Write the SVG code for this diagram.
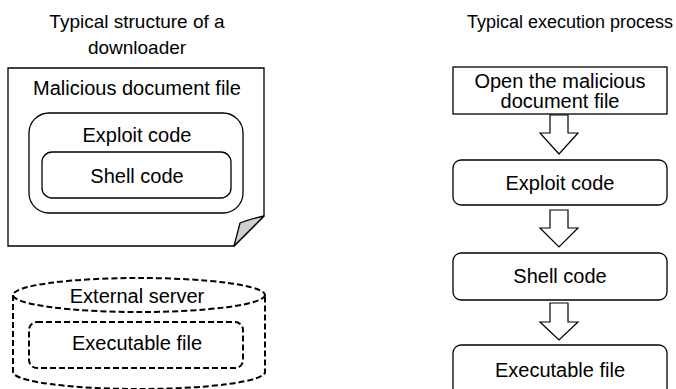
<svg xmlns="http://www.w3.org/2000/svg" width="676" height="389" viewBox="0 0 676 389">
<style>
text{font-family:"Liberation Sans",Arial,sans-serif;fill:#000;text-anchor:middle}
.t{font-size:19px}
.l{font-size:20px}
.s{fill:#fff;stroke:#000;stroke-width:1.3}
.d{fill:none;stroke:#000;stroke-width:2;stroke-dasharray:6 3}
.a{fill:#fff;stroke:#000;stroke-width:1.2;stroke-linejoin:miter}
</style>
<rect width="676" height="389" fill="#fff"/>
<g id="title-left">
<text class="t" x="137" y="28">Typical structure of a</text>
<text class="t" x="137" y="54">downloader</text>
</g>
<g id="title-right">
<text x="570" y="28" style="font-size:18px">Typical execution process</text>
</g>
<g id="doc">
<path class="s" d="M8,68 H264 V216 L234,246 H8 Z"/>
<path d="M264,216 Q250,219 240,223 Q237,235 234,246 Z" fill="#d0d0d0" stroke="#000" stroke-width="1.3" stroke-linejoin="round"/>
<text class="l" x="137" y="95">Malicious document file</text>
</g>
<g id="exploit-inner">
<rect class="s" x="29" y="113" width="214" height="100" rx="20"/>
<text class="l" x="137" y="142">Exploit code</text>
</g>
<g id="shell-inner">
<rect class="s" x="42" y="152" width="189" height="46" rx="10"/>
<text class="l" x="137" y="183">Shell code</text>
</g>
<g id="server">
<path class="d" d="M13,295 V372 A126,17 0 0 0 265,372 V295"/>
<ellipse class="d" cx="139" cy="295" rx="126" ry="17"/>
<text class="l" x="137" y="303">External server</text>
</g>
<g id="exe-inner">
<rect class="d" x="29" y="322" width="214" height="46" rx="8"/>
<text class="l" x="137" y="350">Executable file</text>
</g>
<g id="step1">
<rect class="s" x="453" y="67" width="214" height="47"/>
<text class="l" x="560" y="88">Open the malicious</text>
<text class="l" x="560" y="108">document file</text>
</g>
<g id="step2">
<rect class="s" x="453" y="160" width="214" height="45" rx="8"/>
<text class="l" x="560" y="190">Exploit code</text>
</g>
<g id="step3">
<rect class="s" x="453" y="253" width="214" height="47" rx="8"/>
<text class="l" x="560" y="283">Shell code</text>
</g>
<g id="step4">
<rect class="s" x="453" y="345" width="214" height="60" rx="8"/>
<text class="l" x="560" y="377">Executable file</text>
</g>
<g id="connectors">
<path class="a" d="M550,115 H568 V133 H578 L559,154 L540,133 H550 Z"/>
<path class="a" d="M550,210 H568 V228 H578 L559,247 L540,228 H550 Z"/>
<path class="a" d="M550,303 H568 V322 H578 L559,340 L540,322 H550 Z"/>
</g>
</svg>
